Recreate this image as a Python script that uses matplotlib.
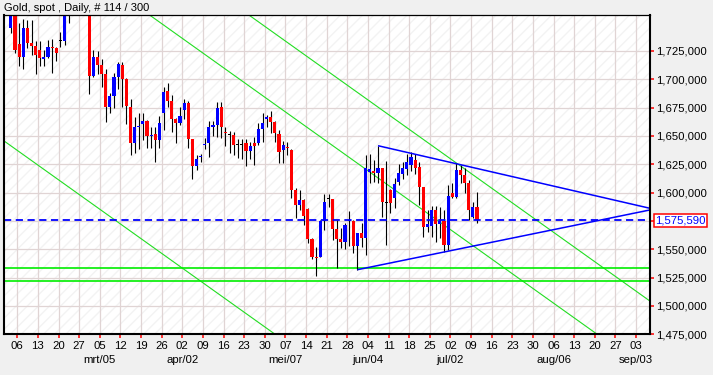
import numpy as np
import pandas as pd
import matplotlib
matplotlib.use("Agg")
import matplotlib.pyplot as plt
import matplotlib.transforms as mtransforms
from matplotlib.patches import Rectangle
from matplotlib.ticker import FuncFormatter

plt.rcParams['font.family'] = ['Liberation Sans', 'DejaVu Sans']

# ---------------- data ----------------
title = "Gold, spot , Daily, # 114 / 300"
first_day = "2012-02-02"
last_day = "2012-07-10"
axis_origin = "2012-02-06"          # first Monday tick
axis_end_tick = "2012-09-03"        # last Monday tick

opens = [1745.3, 1759.0, 1731.2, 1720.0, 1745.3, 1732.3, 1729.4, 1725.9, 1718.2, 1719.7,
         1728.5, 1727.6, 1734.1, 1734.1, 1762.0, 1767.0, 1775.0, 1780.0, 1770.0, 1787.0,
         1702.9, 1720.0, 1712.9, 1704.7, 1675.3, 1685.6, 1702.3, 1713.0, 1700.3, 1675.9,
         1644.1, 1658.2, 1660.5, 1663.2, 1650.3, 1651.7, 1646.5, 1670.0, 1689.7, 1681.2,
         1664.7, 1661.7, 1672.9, 1679.4, 1647.3, 1623.5, 1631.1, 1642.0, 1644.1, 1658.2,
         1659.7, 1675.9, 1652.9, 1650.5, 1650.9, 1641.7, 1641.7, 1643.5, 1637.0, 1643.5,
         1643.5, 1655.9, 1664.7, 1667.0, 1662.6, 1651.7, 1637.6, 1640.3, 1637.6, 1602.3,
         1589.1, 1593.5, 1585.3, 1558.8, 1543.5, 1543.5, 1575.0, 1594.1, 1594.1, 1567.6,
         1558.8, 1556.7, 1575.0, 1575.0, 1552.9, 1564.1, 1560.3, 1618.2, 1619.1, 1617.6,
         1621.4, 1591.2, 1602.4, 1595.6, 1609.7, 1616.2, 1620.6, 1624.4, 1628.8, 1622.3,
         1604.7, 1569.4, 1570.5, 1584.6, 1572.5, 1575.2, 1553.8, 1599.4, 1596.4, 1620.0,
         1615.5, 1608.2, 1578.8, 1587.0]
highs = [1764.0, 1763.0, 1749.4, 1753.5, 1752.3, 1752.3, 1734.1, 1733.8, 1725.9, 1734.7,
         1735.6, 1728.8, 1742.1, 1765.0, 1775.0, 1777.0, 1786.0, 1785.0, 1790.0, 1792.0,
         1725.9, 1725.3, 1717.9, 1709.1, 1687.9, 1705.3, 1715.6, 1715.0, 1701.5, 1682.3,
         1667.1, 1670.6, 1670.6, 1664.1, 1658.2, 1658.2, 1667.6, 1693.5, 1696.5, 1686.2,
         1665.5, 1675.9, 1682.3, 1681.2, 1647.5, 1633.2, 1633.8, 1647.9, 1663.2, 1663.2,
         1679.7, 1679.7, 1658.2, 1654.7, 1653.8, 1647.1, 1647.3, 1647.0, 1645.0, 1649.4,
         1661.5, 1670.0, 1668.5, 1672.0, 1663.0, 1655.3, 1646.0, 1645.0, 1638.5, 1603.8,
         1602.3, 1594.0, 1586.1, 1560.0, 1552.3, 1575.9, 1598.8, 1598.8, 1594.5, 1575.9,
         1568.5, 1573.5, 1584.1, 1575.9, 1564.7, 1572.9, 1633.2, 1634.1, 1628.8, 1641.4,
         1622.0, 1628.0, 1603.0, 1612.7, 1625.0, 1626.8, 1634.1, 1635.6, 1633.8, 1627.3,
         1605.0, 1585.0, 1588.0, 1588.0, 1587.6, 1584.6, 1607.0, 1608.2, 1626.4, 1624.4,
         1621.4, 1611.1, 1592.0, 1600.8]
lows = [1740.6, 1722.9, 1711.8, 1709.4, 1727.9, 1721.5, 1704.4, 1711.8, 1712.0, 1718.5,
        1705.3, 1716.2, 1728.8, 1730.3, 1749.4, 1762.0, 1770.0, 1766.0, 1765.0, 1687.0,
        1701.8, 1704.7, 1693.5, 1662.6, 1670.6, 1674.4, 1691.5, 1675.9, 1660.6, 1633.2,
        1634.7, 1638.2, 1646.4, 1639.1, 1639.1, 1627.3, 1639.1, 1655.3, 1675.9, 1653.8,
        1644.1, 1659.7, 1664.7, 1639.1, 1611.7, 1620.0, 1627.3, 1638.2, 1631.1, 1650.0,
        1648.8, 1647.9, 1641.2, 1634.7, 1633.2, 1630.3, 1630.0, 1623.5, 1629.4, 1624.4,
        1642.0, 1644.5, 1658.2, 1652.3, 1645.0, 1626.0, 1626.0, 1633.2, 1595.0, 1577.3,
        1584.7, 1571.4, 1555.3, 1541.1, 1526.4, 1542.9, 1567.0, 1587.6, 1558.2, 1533.2,
        1550.8, 1549.9, 1552.9, 1546.4, 1532.0, 1551.7, 1545.0, 1608.2, 1609.7, 1608.2,
        1578.5, 1554.0, 1581.8, 1586.2, 1606.8, 1612.0, 1615.6, 1619.1, 1616.2, 1589.1,
        1561.1, 1565.5, 1561.0, 1556.7, 1559.6, 1547.9, 1549.0, 1595.0, 1595.0, 1608.2,
        1599.4, 1575.8, 1577.3, 1573.5]
closes = [1759.0, 1725.9, 1720.0, 1745.3, 1732.3, 1729.7, 1721.5, 1719.1, 1719.7, 1728.5,
          1727.6, 1723.5, 1734.1, 1760.0, 1768.0, 1775.0, 1780.0, 1770.0, 1785.0, 1703.0,
          1720.0, 1712.9, 1704.7, 1675.3, 1685.6, 1702.3, 1713.5, 1700.3, 1676.7, 1644.1,
          1658.2, 1659.1, 1663.2, 1650.0, 1650.9, 1646.5, 1661.7, 1689.1, 1681.2, 1664.7,
          1661.7, 1667.6, 1679.4, 1647.3, 1623.5, 1629.7, 1632.0, 1642.9, 1658.2, 1659.7,
          1675.0, 1658.2, 1652.3, 1650.5, 1642.1, 1641.7, 1641.7, 1637.0, 1641.2, 1641.2,
          1655.9, 1661.5, 1667.0, 1662.6, 1652.3, 1636.2, 1642.0, 1639.5, 1602.3, 1589.1,
          1593.5, 1579.4, 1558.8, 1542.9, 1542.6, 1575.0, 1592.0, 1594.1, 1567.6, 1558.8,
          1556.7, 1571.4, 1575.5, 1552.9, 1564.1, 1560.3, 1621.4, 1620.6, 1617.6, 1621.4,
          1592.0, 1591.2, 1591.2, 1607.4, 1617.1, 1621.5, 1627.4, 1631.8, 1621.5, 1604.7,
          1569.4, 1572.3, 1584.6, 1572.3, 1575.0, 1553.8, 1597.0, 1596.4, 1620.0, 1615.5,
          1608.2, 1584.6, 1587.0, 1575.59]

last_price = 1575.59
support_levels = [1533.2, 1522.0]
# parallel green channel lines, each through two (business-day index, price) points
channel_lines = [((0, 1901.3), (150, 1511.9)),
                 ((0, 1838.8), (150, 1449.4)),
                 ((0, 1636.1), (150, 1246.7))]
# blue triangle lines
triangle_lines = [((87, 1641.4), (152.9, 1586.2)),
                  ((82, 1532.0), (152.9, 1584.7))]
y_ticks = [1475, 1500, 1525, 1550, 1575, 1600, 1625, 1650, 1675, 1700, 1725]
dutch_months = ['jan', 'feb', 'mrt', 'apr', 'mei', 'jun', 'jul', 'aug', 'sep', 'okt', 'nov', 'dec']

# ---------------- figure ----------------
W, H = 713, 375
fig = plt.figure(figsize=(W / 100, H / 100), dpi=100, facecolor='#f0f0f0')
L, R, T, B = 4.3, 650.0, 14.7, 334.3
ax = fig.add_axes([L / W, (H - B) / H, (R - L) / W, (B - T) / H])
ax.set_facecolor('white')
ax.add_patch(Rectangle((0, 0), 1, 1, transform=ax.transAxes, facecolor='white',
                       edgecolor='#f3f3f3', hatch='///', lw=0, zorder=0))

base = np.datetime64(axis_origin)
dates = pd.bdate_range(first_day, last_day)
x = np.busday_count(base, dates.values.astype('datetime64[D]')).astype(float)
o = np.array(opens); h = np.array(highs); l = np.array(lows); c = np.array(closes)

mondays = pd.date_range(axis_origin, axis_end_tick, freq='W-MON')
tick_x = np.busday_count(base, mondays.values.astype('datetime64[D]')) - 0.45
tick_lbl = [d.strftime('%d') for d in mondays]

xmin, xmax = -3.60, 152.93
ax.set_xlim(xmin, xmax)
ax.set_ylim(1475, 1757)

# grid
for tx in tick_x:
    ax.axvline(tx, color='#e0d4d4', lw=0.9, zorder=1)
for ty in y_ticks:
    ax.axhline(ty, color='#e0d4d4', lw=0.9, zorder=1)

# channel lines (infinite, clipped by the axes)
for p0, p1 in channel_lines:
    ax.axline(p0, p1, color='#22dd22', lw=0.8, zorder=2)
for lvl in support_levels:
    ax.axhline(lvl, color='#00ee00', lw=1.2, zorder=2)
for (x0, y0), (x1, y1) in triangle_lines:
    ax.plot([x0, x1], [y0, y1], color='#0000ff', lw=1.1, zorder=5, solid_capstyle='butt')
ax.axhline(last_price, color='#0000ff', lw=1.3, dashes=(4, 2.5), zorder=5)

# candles
ax.vlines(x, l, h, color='black', lw=0.8, zorder=3)
cols = np.where(c > o, '#0000ff', np.where(c < o, '#ff0000', '#000000'))
bottom = np.minimum(o, c)
height = np.maximum(np.abs(c - o), 0.9)
ax.bar(x, height, bottom=bottom, width=0.75, color=cols, lw=0, zorder=4)

# axes styling
for side in ['left', 'bottom', 'right']:
    ax.spines[side].set_linewidth(1.5)
ax.spines['top'].set_linewidth(0.9)
for s in ax.spines.values():
    s.set_color('black')
    s.set_zorder(6)

ax.set_xticks(tick_x)
ax.set_xticklabels(tick_lbl)
ax.yaxis.tick_right()
ax.set_yticks(y_ticks)
ax.yaxis.set_major_formatter(FuncFormatter(
    lambda v, p: '' if abs(v - 1575) < 1e-6 else f"{v:,.3f}".replace('.', ',')))
ax.tick_params(axis='both', colors='#ff0000', labelcolor='black', length=3.2,
               width=1.1, direction='out', labelsize=8.2, pad=1.5)
ax.tick_params(axis='y', right=True, left=False)

# month labels (first Monday of each month after the first tick)
trans = mtransforms.blended_transform_factory(ax.transData, ax.transAxes)
for k, (tx, d) in enumerate(zip(tick_x, mondays)):
    if d.day <= 7 and k > 0:
        ax.text(tx, -(360 - B) / (B - T), f"{dutch_months[d.month - 1]}/{d.strftime('%d')}",
                transform=trans, ha='center', va='center', fontsize=8.2, color='black')

# last price label
ax.text(1 + (655 - R) / (R - L), last_price, f"{last_price:,.3f}".replace('.', ','),
        transform=mtransforms.blended_transform_factory(ax.transAxes, ax.transData),
        ha='left', va='center', fontsize=8.2, color='#0000ff', clip_on=False, zorder=10,
        bbox=dict(boxstyle='square,pad=0.12', fc='white', ec='#ff0000', lw=1.1))

fig.text(4 / W, 1 - 8 / H, title, ha='left', va='center', fontsize=8.0, color='black')

fig.savefig('out.png', dpi=100, facecolor=fig.get_facecolor())
